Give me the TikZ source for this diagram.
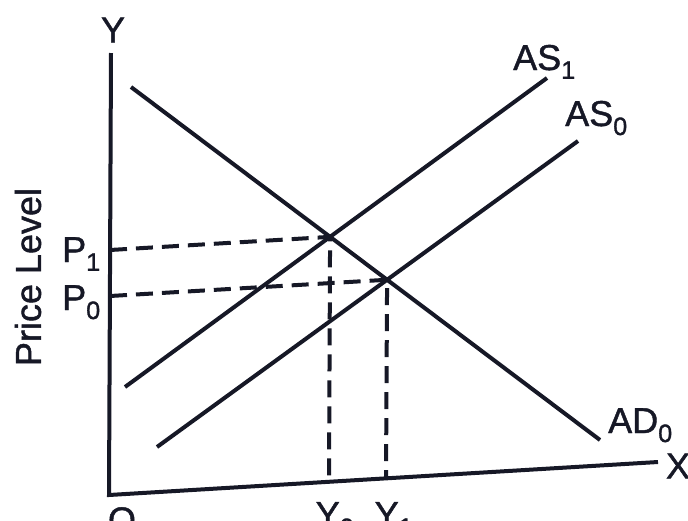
\documentclass[tikz,border=0pt]{standalone}
\usepackage{fontspec}
\setmainfont{Liberation Sans}[FakeBold=1.2]
\definecolor{ink}{RGB}{22,24,38}
\begin{document}
\begin{tikzpicture}[x=1pt,y=-1pt,
  curve/.style={line width=4pt,draw=ink},
  guide/.style={line width=4pt,draw=ink,dash pattern=on 17pt off 9pt},
  lab/.style={inner sep=0pt,text=ink,font=\fontsize{36}{40}\selectfont}]
\useasboundingbox (0,0) rectangle (688,520);
% axes
\coordinate (ytop) at (111,53);
\coordinate (orig) at (109,495);
\coordinate (xend) at (658,462);
\draw[curve] (ytop) -- (orig) -- (xend);
% curves
\coordinate (ad1) at (131,87);
\coordinate (ad2) at (600,440);
\coordinate (asa1) at (125,387);
\coordinate (asa2) at (547,78);
\coordinate (asb1) at (157,447);
\coordinate (asb2) at (578,141);
\draw[curve] (ad1) -- (ad2);
\draw[curve] (asa1) -- (asa2);
\draw[curve] (asb1) -- (asb2);
\coordinate (e1) at (intersection of ad1--ad2 and asa1--asa2);
\coordinate (e0) at (intersection of ad1--ad2 and asb1--asb2);
% guides
\coordinate (p1) at (110,250);
\coordinate (p0) at (110,296);
\coordinate (y0) at (329,482);
\coordinate (y1) at (386,478);
\draw[guide] (p1) -- (e1) -- (y0);
\draw[guide] (p0) -- (e0) -- (y1);
% labels
\node[lab] (ly) at (113,30) {Y};
\node[lab] (lx) at (678,466) {X};
\node[lab,anchor=north] (lo) at (122,507) {O};
\node[lab,anchor=north] (ly0) at (335,502) {Y\textsubscript{0}};
\node[lab,anchor=north] (ly1) at (394,502) {Y\textsubscript{1}};
\node[lab,anchor=base west] (lp1) at (62,262) {P\textsubscript{1}};
\node[lab,anchor=base west] (lp0) at (62,310) {P\textsubscript{0}};
\node[lab,anchor=base west] (las1) at (513,70) {AS\textsubscript{1}};
\node[lab,anchor=base west] (las0) at (565,126) {AS\textsubscript{0}};
\node[lab,anchor=base west] (lad0) at (608,433) {AD\textsubscript{0}};
\node[lab,rotate=90] (lpl) at (28,277) {Price Level};
\end{tikzpicture}
\end{document}
